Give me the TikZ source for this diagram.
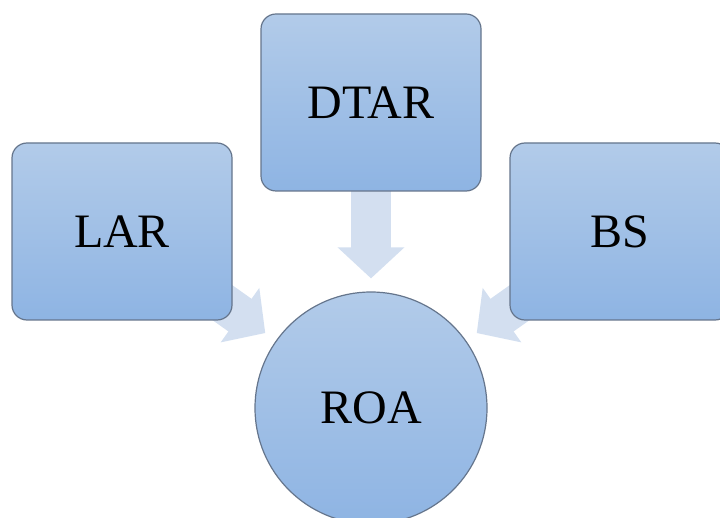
\documentclass[tikz,border=0pt]{standalone}
\usepackage{fontspec}
\setmainfont{Liberation Serif}
\usetikzlibrary{arrows.meta,backgrounds}
\definecolor{boxtop}{HTML}{B2CBE9}
\definecolor{boxbot}{HTML}{8EB4E3}
\definecolor{boxline}{HTML}{65758C}
\definecolor{arrowfill}{HTML}{D3DFF0}
\tikzset{
	factor/.style={rounded corners=15pt, draw=boxline, line width=1.2pt, top color=boxtop, bottom color=boxbot, minimum width=220pt, minimum height=177pt, font=\fontsize{48}{52}\selectfont},
	target/.style={circle, draw=boxline, line width=1.2pt, top color=boxtop, bottom color=boxbot, minimum size=232pt, inner sep=0pt, font=\fontsize{48}{52}\selectfont},
	flow/.style={arrowfill, line width=40pt, shorten >=13pt, -{Triangle[width=65pt,length=31pt]}}
}
\begin{document}
\begin{tikzpicture}[x=1pt,y=-1pt]
	\useasboundingbox (0,0) rectangle (720,518);
	% boxes
	\node[factor] (lar) at (122,231.5) {LAR};
	\node[factor] (dtar) at (371,102.5) {DTAR};
	\node[factor] (bs) at (620,231.5) {BS};
	\node[target] (roa) at (371,408) {ROA};
	% arrows behind the boxes
	\begin{pgfonlayer}{background}
		\foreach \src in {lar, dtar, bs}
		\draw[flow] (\src.center) -- (roa);
	\end{pgfonlayer}
\end{tikzpicture}
\end{document}
